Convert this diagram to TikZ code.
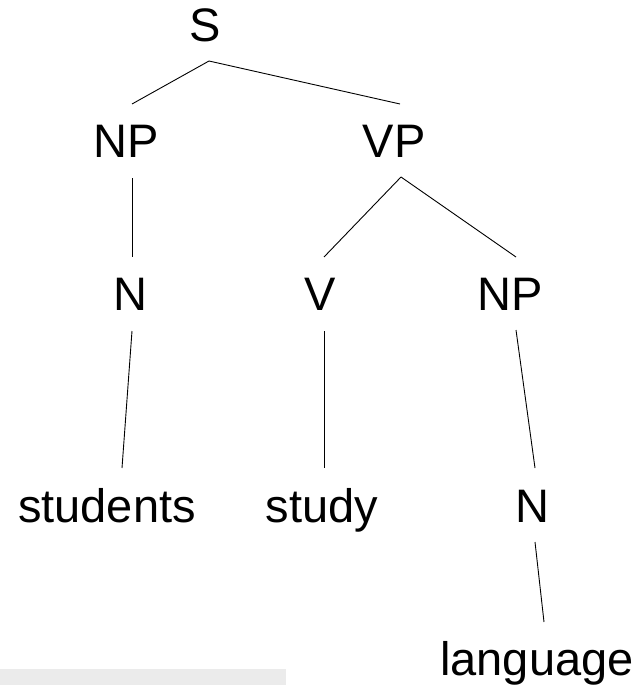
\documentclass[tikz,border=0pt]{standalone}
\usepackage{fontspec}
\setmainfont{Liberation Sans}
\definecolor{barfill}{HTML}{EBEBEB}
\begin{document}
\begin{tikzpicture}[x=1pt,y=-1pt,
  lbl/.style={anchor=base,inner sep=0pt,font=\fontsize{47}{56}\selectfont},
  edge/.style={draw=black,line width=0.9pt}]
\useasboundingbox (0,0) rectangle (641,685);
% grey strip along the lower edge
\fill[barfill] (0,669) rectangle (286,685);

% tree labels (positioned by their baselines)
\node[lbl] (S)        at (205,42)  {S};
\node[lbl] (NPa)      at (126,157) {NP};
\node[lbl] (VP)       at (394,157) {VP};
\node[lbl] (Na)       at (130,310) {N};
\node[lbl] (V)        at (320,310) {V};
\node[lbl] (NPb)      at (510,310) {NP};
\node[lbl] (students) at (107,522) {students};
\node[lbl] (study)    at (322,522) {study};
\node[lbl] (Nb)       at (532,522) {N};
\node[lbl] (language) at (537,675) {language};

% branches
\draw[edge] ([shift={(4pt,-19pt)}]S.base)   -- ([shift={(6pt,53pt)}]NPa.base);
\draw[edge] ([shift={(4pt,-19pt)}]S.base)   -- ([shift={(6pt,53pt)}]VP.base);
\draw[edge] ([shift={(6pt,-21pt)}]NPa.base) -- ([shift={(2pt,53pt)}]Na.base);
\draw[edge] ([shift={(7pt,-20pt)}]VP.base)  -- ([shift={(4pt,53pt)}]V.base);
\draw[edge] ([shift={(7pt,-20pt)}]VP.base)  -- ([shift={(6pt,53pt)}]NPb.base);
\draw[edge] ([shift={(2pt,-21pt)}]Na.base)  -- ([shift={(15pt,54pt)}]students.base);
\draw[edge] ([shift={(4pt,-21pt)}]V.base)   -- ([shift={(2pt,54pt)}]study.base);
\draw[edge] ([shift={(6pt,-20pt)}]NPb.base) -- ([shift={(3pt,54pt)}]Nb.base);
\draw[edge] ([shift={(3pt,-20pt)}]Nb.base)  -- ([shift={(7pt,53pt)}]language.base);
\end{tikzpicture}
\end{document}
